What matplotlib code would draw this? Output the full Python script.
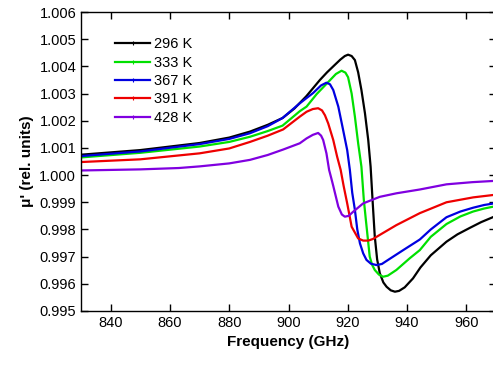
import matplotlib
matplotlib.use("Agg")
import matplotlib.pyplot as plt
from matplotlib.lines import Line2D

plt.rcParams['font.family'] = ['Liberation Sans', 'DejaVu Sans']

labels = ["296 K", "333 K", "367 K", "391 K", "428 K"]
colors = ["#000000", "#00e000", "#0000e0", "#ee0000", "#8000e0"]

f_296 = [830, 850, 870, 880, 887, 893, 898, 902, 906, 910.6, 913, 915.1, 917.5, 919, 920.1, 921.3, 922.4,
         923.5, 924.6, 925.8, 926.9, 927.7, 928.4, 929.1, 929.9, 930.8, 932, 933.1, 934.5, 935.9, 937.3,
         939.2, 942, 944.5, 948, 953.3, 957, 961.2, 965, 970]
v_296 = [1.00075, 1.00092, 1.00118, 1.00138, 1.00160, 1.00185, 1.00210, 1.00245, 1.00290, 1.00350, 1.00378,
         1.00400, 1.00425, 1.00438, 1.00443, 1.00438, 1.00423, 1.00378, 1.00313, 1.00227, 1.00129, 1.00031,
         0.99900, 0.99775, 0.99690, 0.99639, 0.99605, 0.99589, 0.99576, 0.99571, 0.99574, 0.99587, 0.99620,
         0.99660, 0.99705, 0.99755, 0.99782, 0.99806, 0.99827, 0.99850]

f_333 = [830, 850, 870, 880, 887, 893, 898, 903.8, 906.1, 909.5, 913.9, 916, 917.9, 919.2, 920.1, 921.3,
         922.4, 923.5, 924.6, 925.4, 926.1, 927.4, 928.2, 929.1, 930.5, 931.9, 933.5, 936.4, 940.9, 944.3,
         948, 953.3, 958, 962.3, 966, 970]
v_333 = [1.00065, 1.00082, 1.00105, 1.00122, 1.00141, 1.00162, 1.00182, 1.00235, 1.00252, 1.00298, 1.00348,
         1.00372, 1.00384, 1.00377, 1.00360, 1.00300, 1.00215, 1.00117, 1.00031, 0.99910, 0.99835, 0.99700,
         0.99670, 0.99651, 0.99634, 0.99626, 0.99630, 0.99651, 0.99694, 0.99724, 0.99773, 0.99820, 0.99848,
         0.99866, 0.99877, 0.99886]

f_367 = [830, 850, 870, 880, 887, 893, 898, 903.8, 908.3, 911, 912.8, 914, 915.1, 916.8, 918.2, 919.8, 920.7,
         921.5, 922.4, 923.2, 924.1, 925.2, 926.3, 927.8, 929.7, 931.5, 933.6, 938.7, 944.3, 948, 953.3, 958,
         962.3, 966, 970]
v_367 = [1.00070, 1.00087, 1.00114, 1.00133, 1.00154, 1.00180, 1.00210, 1.00264, 1.00302, 1.00330, 1.00340,
         1.00334, 1.00313, 1.00252, 1.00178, 1.00092, 1.00019, 0.99935, 0.99872, 0.99800, 0.99749, 0.99712,
         0.99688, 0.99674, 0.99669, 0.99673, 0.99688, 0.99724, 0.99763, 0.99800, 0.99845, 0.99866, 0.99880,
         0.99890, 0.99897]

f_391 = [830, 850, 870, 880, 887, 893, 898.2, 903.8, 906.1, 908.2, 910, 911.3, 912.3, 913.4, 915.1, 916.4,
         917.6, 918.6, 919.8, 921.3, 923.5, 925.2, 926.9, 928.5, 930.8, 936.4, 944.3, 953.3, 962.3, 970]
v_391 = [1.00048, 1.00058, 1.00080, 1.00098, 1.00122, 1.00145, 1.00168, 1.00215, 1.00233, 1.00243, 1.00246,
         1.00238, 1.00220, 1.00190, 1.00129, 1.00068, 1.00019, 0.99960, 0.99896, 0.99810, 0.99767, 0.99759,
         0.99759, 0.99765, 0.99780, 0.99816, 0.99860, 0.99900, 0.99918, 0.99928]

f_428 = [830, 850, 863, 870, 880, 887, 893, 898.2, 903.8, 906.1, 908.2, 910, 911, 911.7, 912.8, 913.7, 914.4,
         915.1, 916.8, 918, 919, 920.3, 921.8, 925.2, 930.8, 936.4, 944.3, 953.3, 962, 970]
v_428 = [1.00017, 1.00021, 1.00026, 1.00032, 1.00043, 1.00056, 1.00074, 1.00094, 1.00117, 1.00135, 1.00148,
         1.00155, 1.00145, 1.00129, 1.00080, 1.00019, 0.99990, 0.99960, 0.99884, 0.99855, 0.99847, 0.99850,
         0.99865, 0.99896, 0.99920, 0.99933, 0.99947, 0.99966, 0.99974, 0.99979]

series_f = [f_296, f_333, f_367, f_391, f_428]
series_v = [v_296, v_333, v_367, v_391, v_428]

xticks = [840, 860, 880, 900, 920, 940, 960]
yticks = [0.995, 0.996, 0.997, 0.998, 0.999, 1.000, 1.001, 1.002, 1.003, 1.004, 1.005, 1.006]

fig = plt.figure(figsize=(4.93, 3.65), dpi=100)
ax = fig.add_axes([81/493, 54/365, 415/493, 299/365])

for f, v, c in zip(series_f, series_v, colors):
    ax.plot(f, v, color=c, lw=1.6, solid_joinstyle='round', solid_capstyle='round')

ax.set_xlim(830, 970)
ax.set_ylim(0.995, 1.006)
ax.set_xticks(xticks)
ax.set_yticks(yticks)
ax.set_yticklabels([f"{y:.3f}" for y in yticks])
ax.tick_params(direction='in', length=5, width=1, top=True, right=True, labelsize=10.5)
for s in ax.spines.values():
    s.set_linewidth(1.0)

ax.set_xlabel("Frequency (GHz)", fontsize=11, fontweight='bold', labelpad=4)
ax.set_ylabel("μ' (rel. units)", fontsize=11, fontweight='bold', labelpad=4)

handles = [Line2D([], [], color=c, lw=1.6, marker='|', markersize=3, markeredgewidth=0.8) for c in colors]
ax.legend(handles, labels, loc='upper left', bbox_to_anchor=(0.068, 0.935), frameon=False,
          fontsize=10.5, handlelength=2.4, handletextpad=0.3, labelspacing=0.3, borderaxespad=0)

fig.savefig("out.png", dpi=100)
